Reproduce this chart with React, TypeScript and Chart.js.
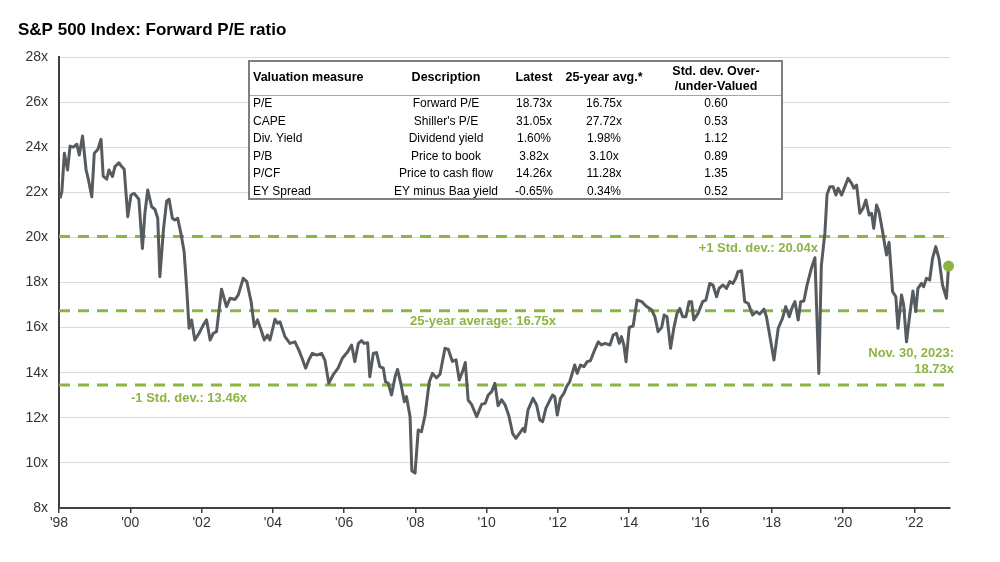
import React, { useEffect, useRef } from "react";
import { Chart, registerables } from "chart.js";

Chart.register(...registerables);

const FONT = '"Liberation Sans", Arial, Helvetica, sans-serif';
const TITLE = "S&P 500 Index: Forward P/E ratio";

// Forward P/E series (decimal year, value)
const dates = [
  1998.03, 1998.08, 1998.15, 1998.24, 1998.31, 1998.40, 1998.50, 1998.57, 1998.66, 1998.76, 1998.82, 1998.92, 1998.99,
  1999.09, 1999.18, 1999.24, 1999.34, 1999.40, 1999.50, 1999.57, 1999.68, 1999.76, 1999.83, 1999.93,
  2000.02, 2000.11, 2000.24, 2000.34, 2000.41, 2000.49, 2000.60, 2000.69, 2000.77, 2000.83, 2000.93,
  2001.02, 2001.09, 2001.18, 2001.25, 2001.33, 2001.42, 2001.51, 2001.58, 2001.65, 2001.72, 2001.81, 2001.93,
  2002.05, 2002.14, 2002.24, 2002.33, 2002.42, 2002.56, 2002.70, 2002.80, 2002.94,
  2003.03, 2003.17, 2003.27, 2003.39, 2003.48, 2003.57, 2003.67, 2003.76, 2003.85, 2003.92,
  2004.06, 2004.13, 2004.20, 2004.34, 2004.48, 2004.62, 2004.73, 2004.82, 2004.92,
  2005.01, 2005.11, 2005.23, 2005.37, 2005.46, 2005.57, 2005.69, 2005.83, 2005.95,
  2006.10, 2006.21, 2006.30, 2006.40, 2006.49, 2006.56, 2006.66, 2006.72, 2006.82, 2006.91,
  2007.00, 2007.10, 2007.16, 2007.24, 2007.33, 2007.43, 2007.50, 2007.59, 2007.69, 2007.75, 2007.85, 2007.90, 2007.99,
  2008.08, 2008.17, 2008.27, 2008.39, 2008.48, 2008.59, 2008.69, 2008.83, 2008.92,
  2009.04, 2009.14, 2009.23, 2009.33, 2009.40, 2009.48, 2009.58, 2009.72, 2009.86, 2009.96,
  2010.04, 2010.14, 2010.23, 2010.32, 2010.42, 2010.52, 2010.62, 2010.73, 2010.82, 2010.92,
  2011.02, 2011.07, 2011.16, 2011.30, 2011.40, 2011.49, 2011.57, 2011.66, 2011.75, 2011.85, 2011.91, 2011.98,
  2012.07, 2012.17, 2012.24, 2012.33, 2012.47, 2012.54, 2012.63, 2012.73, 2012.82, 2012.91,
  2013.01, 2013.13, 2013.22, 2013.32, 2013.46, 2013.55, 2013.64, 2013.72, 2013.78, 2013.85, 2013.91,
  2014.00, 2014.11, 2014.22, 2014.35, 2014.47, 2014.63, 2014.72, 2014.81, 2014.91, 2014.98,
  2015.06, 2015.16, 2015.25, 2015.34, 2015.42, 2015.50, 2015.59, 2015.68, 2015.75, 2015.81, 2015.93,
  2016.06, 2016.15, 2016.26, 2016.35, 2016.45, 2016.52, 2016.63, 2016.73, 2016.82, 2016.91, 2016.99,
  2017.05, 2017.15, 2017.24, 2017.34, 2017.46, 2017.57, 2017.66, 2017.78, 2017.85, 2017.94,
  2018.06, 2018.18, 2018.30, 2018.39, 2018.49, 2018.58, 2018.65, 2018.74, 2018.81, 2018.90, 2018.99,
  2019.11, 2019.21, 2019.32, 2019.39, 2019.49, 2019.55, 2019.63, 2019.72, 2019.80, 2019.86, 2019.96,
  2020.05, 2020.14, 2020.24, 2020.30, 2020.38, 2020.47, 2020.56, 2020.64, 2020.73, 2020.80, 2020.86, 2020.94,
  2021.01, 2021.11, 2021.17, 2021.22, 2021.29, 2021.39, 2021.48, 2021.54, 2021.64, 2021.70, 2021.78, 2021.87, 2021.96,
  2022.04, 2022.10, 2022.20, 2022.26, 2022.34, 2022.43, 2022.51, 2022.60, 2022.69, 2022.79, 2022.90, 2022.96,
];

const peValues = [
  21.73, 22.03, 23.73, 22.99, 24.05, 24.0, 24.13, 23.65, 24.5, 23.0, 22.6, 21.8, 23.73,
  23.9, 24.35, 22.72, 22.58, 22.99, 22.7, 23.14, 23.31, 23.14, 23.02, 20.92,
  21.88, 21.95, 21.69, 19.51, 21.07, 22.1, 21.36, 21.25, 20.85, 18.26, 20.33,
  21.61, 21.69, 20.85, 20.77, 20.85, 20.18, 19.37, 17.81, 15.97, 16.34, 15.45, 15.75,
  16.12, 16.34, 15.45, 15.75, 15.82, 17.7, 16.93, 17.3, 17.25,
  17.45, 18.19, 18.04, 17.15, 16.04, 16.34, 15.89, 15.45, 15.67, 15.45,
  16.37, 16.19, 16.26, 15.6, 15.3, 15.37, 15.0, 14.64, 14.2,
  14.56, 14.86, 14.78, 14.86, 14.56, 13.53, 13.9, 14.2, 14.64,
  14.93, 15.23, 14.49, 15.3, 15.42, 15.3, 15.33, 13.82, 14.86, 14.89,
  14.27, 14.2, 13.6, 13.53, 13.01, 13.82, 14.15, 13.53, 12.71, 12.94, 12.05, 9.65, 9.55,
  11.46, 11.38, 12.1, 13.6, 13.97, 13.77, 13.93, 15.08, 15.04,
  14.5, 14.57, 13.68, 14.08, 14.45, 12.79, 12.58, 12.05, 12.6, 12.64,
  13.0, 13.16, 13.53, 12.53, 12.8, 12.56, 12.1, 11.3, 11.09, 11.31,
  11.53, 11.38, 12.35, 12.86, 12.57, 11.9, 11.83, 12.42, 12.71, 13.01, 12.94, 12.12,
  12.86, 13.09, 13.38, 13.6, 14.34, 13.97, 14.34, 14.27, 14.49, 14.53,
  14.93, 15.37, 15.23, 15.3, 15.23, 15.67, 15.75, 15.3, 15.6, 15.23, 14.49,
  16.01, 16.07, 17.22, 17.15, 16.96, 16.78, 16.48, 15.82, 16.01, 16.56,
  16.48, 15.08, 15.97, 16.63, 16.85, 16.48, 16.48, 17.15, 17.15, 16.34, 16.63,
  17.15, 17.22, 17.96, 17.89, 17.37, 17.74, 17.89, 17.74, 18.04, 17.96, 18.19,
  18.48, 18.52, 17.15, 17.07, 16.56, 16.71, 16.6, 16.82, 16.48, 15.67,
  14.56, 15.97, 16.41, 16.93, 16.48, 16.93, 17.15, 16.34, 17.15, 17.18, 17.89,
  18.63, 19.1, 13.97, 18.75, 20.2, 21.9, 22.25, 22.25, 21.88, 22.18, 21.88,
  22.25, 22.62, 22.4, 22.18, 22.32, 21.07, 21.29, 21.66, 20.99, 21.07, 20.4, 21.44,
  21.14, 20.25, 19.66, 19.22, 19.78, 17.59, 17.37, 15.97, 17.45, 17.0, 15.37, 16.56, 17.62,
  16.71, 17.74, 17.96, 17.81, 18.19, 18.11, 19.07, 19.59, 19.07, 17.89, 17.3, 18.73,
];

const stdUpper = 20.04;
const average25 = 16.75;
const stdLower = 13.46;
const latestDate = 2022.96;
const latestValue = 18.73;

const xStart = 1998;
const xEnd = 2023;
const xTickYears = [1998, 2000, 2002, 2004, 2006, 2008, 2010, 2012, 2014, 2016, 2018, 2020, 2022];
const yMin = 8;
const yMax = 28;
const yStep = 2;

const upperLabel = "+1 Std. dev.: 20.04x";
const averageLabel = "25-year average: 16.75x";
const lowerLabel = "-1 Std. dev.: 13.46x";
const latestLabel1 = "Nov. 30, 2023:";
const latestLabel2 = "18.73x";

// Valuation table
const headerLine1 = ["Valuation measure", "Description", "Latest", "25-year avg.*", "Std. dev. Over-"];
const headerLine2 = ["", "", "", "", "/under-Valued"];
const measures = ["P/E", "CAPE", "Div. Yield", "P/B", "P/CF", "EY Spread"];
const descriptions = ["Forward P/E", "Shiller's P/E", "Dividend yield", "Price to book", "Price to cash flow", "EY minus Baa yield"];
const latestVals = ["18.73x", "31.05x", "1.60%", "3.82x", "14.26x", "-0.65%"];
const avgVals = ["16.75x", "27.72x", "1.98%", "3.10x", "11.28x", "0.34%"];
const stdDevVals = ["0.60", "0.53", "1.12", "0.89", "1.35", "0.52"];

const GREEN = "#8cb543";
const LINE = "#565b5f";
const AXIS = "#404040";

const tablePlugin = {
  id: "valuationTable",
  beforeDatasetsDraw(chart: any) {
    const ctx = chart.ctx;
    const left = 248, top = 60, w = 535, h = 140;
    ctx.save();
    ctx.fillStyle = "#ffffff";
    ctx.fillRect(left, top, w, h);
    ctx.strokeStyle = "#7f7f7f";
    ctx.lineWidth = 2;
    ctx.strokeRect(left + 1, top + 1, w - 2, h - 2);
    ctx.lineWidth = 1;
    ctx.strokeStyle = "#a6a6a6";
    ctx.beginPath();
    ctx.moveTo(left + 2, 95.5);
    ctx.lineTo(left + w - 2, 95.5);
    ctx.stroke();

    const colX = [253, 446, 534, 604, 716];
    const align = ["left", "center", "center", "center", "center"];
    ctx.fillStyle = "#000000";
    ctx.textBaseline = "middle";
    ctx.font = `bold 12.5px ${FONT}`;
    for (let c = 0; c < 5; c++) {
      ctx.textAlign = align[c];
      if (headerLine2[c]) {
        ctx.fillText(headerLine1[c], colX[c], 72);
        ctx.fillText(headerLine2[c], colX[c], 87);
      } else {
        ctx.fillText(headerLine1[c], colX[c], 78);
      }
    }
    ctx.font = `12px ${FONT}`;
    const cols = [measures, descriptions, latestVals, avgVals, stdDevVals];
    for (let r = 0; r < measures.length; r++) {
      const y = 104 + r * 17.5;
      for (let c = 0; c < 5; c++) {
        ctx.textAlign = align[c];
        ctx.fillText(cols[c][r], colX[c], y);
      }
    }
    ctx.restore();
  },
};

const labelPlugin = {
  id: "levelLabels",
  afterDatasetsDraw(chart: any) {
    const ctx = chart.ctx;
    const ys = chart.scales.y;
    ctx.save();
    ctx.fillStyle = GREEN;
    ctx.font = `bold 13px ${FONT}`;
    ctx.textBaseline = "middle";
    ctx.textAlign = "right";
    ctx.fillText(upperLabel, 818, ys.getPixelForValue(stdUpper) + 12);
    ctx.textAlign = "center";
    ctx.fillText(averageLabel, 483, ys.getPixelForValue(average25) + 11);
    ctx.textAlign = "left";
    ctx.fillText(lowerLabel, 131, ys.getPixelForValue(stdLower) + 14);
    ctx.textAlign = "right";
    ctx.fillText(latestLabel1, 954, 353);
    ctx.fillText(latestLabel2, 954, 369);
    ctx.restore();
  },
};

function levelLine(value: number) {
  return {
    data: [
      { x: xStart, y: value },
      { x: xEnd, y: value },
    ],
    borderColor: GREEN,
    borderWidth: 3,
    borderDash: [11, 8],
    pointRadius: 0,
    order: 3,
  };
}

export default function App() {
  const canvasRef = useRef<HTMLCanvasElement | null>(null);

  useEffect(() => {
    document.body.style.margin = "0";
    const canvas = canvasRef.current;
    if (!canvas) return;
    Chart.defaults.font.family = FONT;
    const chart = new Chart(canvas, {
      type: "line",
      data: {
        datasets: [
          {
            data: [{ x: latestDate, y: latestValue }],
            showLine: false,
            pointRadius: 5.5,
            pointBackgroundColor: GREEN,
            pointBorderWidth: 0,
            clip: false,
            order: 0,
          },
          {
            data: dates.map((d, i) => ({ x: d, y: peValues[i] })),
            borderColor: LINE,
            borderWidth: 3,
            pointRadius: 0,
            tension: 0,
            borderJoinStyle: "round",
            order: 1,
          },
          levelLine(stdUpper),
          levelLine(average25),
          levelLine(stdLower),
        ] as any,
      },
      options: {
        animation: false,
        responsive: false,
        devicePixelRatio: 1,
        layout: { padding: { left: 18, right: 50, top: 0, bottom: 0 } },
        plugins: {
          legend: { display: false },
          tooltip: { enabled: false },
          title: {
            display: true,
            text: TITLE,
            align: "start",
            color: "#000000",
            font: { size: 17, weight: "bold", family: FONT },
            padding: { top: 20, bottom: 16.6 },
          },
        },
        scales: {
          x: {
            type: "linear",
            min: xStart,
            max: xEnd,
            afterBuildTicks: (scale: any) => {
              scale.ticks = xTickYears.map((v) => ({ value: v }));
            },
            afterFit: (scale: any) => {
              scale.height = 54;
            },
            ticks: {
              callback: (v: any) => "'" + String(v).slice(2),
              font: { size: 14, family: FONT },
              color: "#333333",
              padding: 2,
              maxRotation: 0,
              autoSkip: false,
            },
            grid: {
              drawOnChartArea: false,
              drawTicks: true,
              tickLength: 5,
              color: AXIS,
              lineWidth: 1.5,
            },
            border: { color: AXIS, width: 2 },
          },
          y: {
            min: yMin,
            max: yMax,
            afterFit: (scale: any) => {
              scale.width = 41;
            },
            ticks: {
              stepSize: yStep,
              callback: (v: any) => v + "x",
              font: { size: 14, family: FONT },
              color: "#333333",
              padding: 11,
            },
            grid: { color: "#d9d9d9", lineWidth: 1, drawTicks: false },
            border: { color: AXIS, width: 2 },
          },
        },
      } as any,
      plugins: [tablePlugin, labelPlugin],
    });
    return () => chart.destroy();
  }, []);

  return (
    <div style={{ position: "absolute", left: 0, top: 0, width: 1000, height: 562, background: "#fff" }}>
      <canvas ref={canvasRef} width={1000} height={562} />
    </div>
  );
}
